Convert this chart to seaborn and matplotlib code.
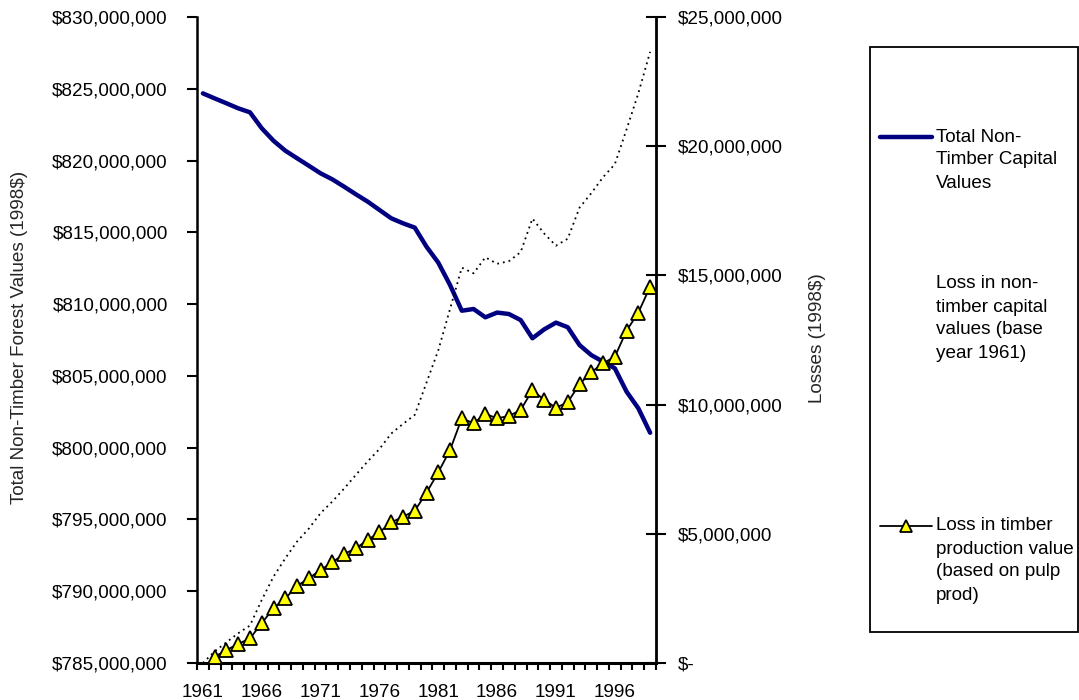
import numpy as np
import pandas as pd
import matplotlib
matplotlib.use("Agg")
import matplotlib.pyplot as plt
import seaborn as sns
from matplotlib.ticker import FuncFormatter, FixedLocator
from matplotlib.lines import Line2D
from matplotlib.patches import Rectangle

# ---- data (millions of 1998 dollars) ----
years = list(range(1961, 2000))

total_non_timber_capital = [
    824.68, 824.33, 823.99, 823.64, 823.36, 822.25, 821.38, 820.69, 820.16, 819.64,
    819.11, 818.69, 818.18, 817.65, 817.14, 816.56, 815.98, 815.63, 815.33, 814.00,
    812.89, 811.33, 809.54, 809.66, 809.08, 809.41, 809.31, 808.89, 807.62, 808.24,
    808.71, 808.39, 807.15, 806.45, 805.99, 805.53, 803.90, 802.74, 801.04,
]

loss_non_timber_capital = [
    0.00, 0.45, 0.80, 1.15, 1.45, 2.44, 3.34, 4.05, 4.70, 5.20,
    5.80, 6.25, 6.75, 7.28, 7.80, 8.28, 8.88, 9.25, 9.60, 10.85,
    12.10, 13.70, 15.30, 15.08, 15.70, 15.45, 15.55, 15.90, 17.20, 16.62,
    16.15, 16.42, 17.62, 18.18, 18.80, 19.30, 20.65, 22.05, 23.65,
]

loss_timber_production = [
    np.nan, 0.24, 0.50, 0.74, 0.95, 1.54, 2.12, 2.50, 2.98, 3.28,
    3.60, 3.90, 4.22, 4.44, 4.76, 5.06, 5.44, 5.66, 5.89, 6.59,
    7.38, 8.24, 9.47, 9.28, 9.64, 9.47, 9.56, 9.79, 10.56, 10.18,
    9.88, 10.09, 10.79, 11.25, 11.60, 11.85, 12.86, 13.56, 14.56,
]

year_labels = [1961, 1966, 1971, 1976, 1981, 1986, 1991, 1996]

legend_labels = [
    "Total Non-\nTimber Capital\nValues",
    "Loss in non-\ntimber capital\nvalues (base\nyear 1961)",
    "Loss in timber\nproduction value\n(based on pulp\nprod)",
]

df = pd.DataFrame({
    "year": years,
    "capital": np.array(total_non_timber_capital) * 1e6,
    "loss_capital": np.array(loss_non_timber_capital) * 1e6,
    "loss_timber": np.array(loss_timber_production) * 1e6,
})

# ---- style ----
sns.set_theme(style="white")
plt.rcParams["font.family"] = ["Liberation Sans", "DejaVu Sans"]
FS = 13.6
plt.rcParams["font.size"] = FS

W, H = 1079, 700
fig = plt.figure(figsize=(W / 100, H / 100), dpi=100)

# plot area in pixels
L, R, T, B = 197, 656, 17, 663
ax = fig.add_axes([L / W, 1 - B / H, (R - L) / W, (B - T) / H])
ax2 = ax.twinx()

NAVY = "#000080"

sns.lineplot(data=df, x="year", y="capital", ax=ax, color=NAVY, lw=3.2,
             legend=False)
sns.lineplot(data=df, x="year", y="loss_capital", ax=ax2, color="black",
             lw=1.3, linestyle=(0, (1, 2.2)), legend=False)
sns.lineplot(data=df, x="year", y="loss_timber", ax=ax2, color="black",
             lw=1.3, marker="^", markersize=9.5, markerfacecolor="#FFFF00",
             markeredgecolor="black", markeredgewidth=1.3, legend=False)

# ---- axes ----
ax.set_xlim(1960.5, 1999.5)
ax.set_ylim(785e6, 830e6)
ax2.set_ylim(0, 25e6)

ax.xaxis.set_major_locator(FixedLocator(year_labels))
ax.xaxis.set_minor_locator(FixedLocator(np.arange(1960.5, 2000, 1)))
ax.tick_params(axis="x", which="major", length=0, pad=15, labelsize=FS,
               colors="black")
ax.tick_params(axis="x", which="minor", bottom=True, length=5, width=1.5,
               direction="out", color="black")

ax.set_yticks(np.arange(785e6, 830e6 + 1, 5e6))
ax.yaxis.set_major_formatter(FuncFormatter(lambda v, p: f"${v:,.0f}"))
ax.tick_params(axis="y", which="major", left=True, length=7, width=1.5,
               direction="out", pad=14, labelsize=FS, colors="black")

ax2.set_yticks(np.arange(0, 25e6 + 1, 5e6))
ax2.yaxis.set_major_formatter(
    FuncFormatter(lambda v, p: "$-" if v == 0 else f"${v:,.0f}"))
ax2.tick_params(axis="y", which="major", right=True, length=14, width=1.5,
                direction="inout", pad=9, labelsize=FS, colors="black")

ax.set_xlabel("")
ax.set_ylabel("Total Non-Timber Forest Values (1998$)", fontsize=FS,
              rotation=90, ha="center", va="center")
ax.yaxis.set_label_coords((20 - L) / (R - L), (B - 337) / (B - T))
ax2.set_ylabel("Losses (1998$)", fontsize=FS, rotation=90,
               ha="center", va="center")
ax2.yaxis.set_label_coords((817 - L) / (R - L), (B - 338) / (B - T))

for a in (ax, ax2):
    a.grid(False)
    a.spines["top"].set_visible(False)
ax.spines["right"].set_visible(False)
ax2.spines["left"].set_visible(False)
ax2.spines["bottom"].set_visible(False)
ax.spines["left"].set_color("black")
ax.spines["left"].set_linewidth(1.8)
ax.spines["bottom"].set_color("black")
ax.spines["bottom"].set_linewidth(2.2)
ax2.spines["right"].set_color("black")
ax2.spines["right"].set_linewidth(2.0)

# ---- legend box ----
def fx(px):
    return px / W


def fy(py):
    return 1 - py / H


fig.add_artist(Rectangle((fx(870), fy(632)), fx(1078) - fx(870),
                         fy(47) - fy(632), transform=fig.transFigure,
                         fill=False, edgecolor="black", lw=1.3))

fig.add_artist(Line2D([fx(880), fx(932)], [fy(137), fy(137)],
                      transform=fig.transFigure, color=NAVY, lw=3.2))
fig.add_artist(Line2D([fx(880), fx(906), fx(932)], [fy(526)] * 3,
                      transform=fig.transFigure, color="black", lw=1.3,
                      marker="^", markevery=[1], markersize=8,
                      markerfacecolor="#FFFF00", markeredgecolor="black",
                      markeredgewidth=1.3))

entry_tops = [137, 284, 526]
line_step = 23
for top, label in zip(entry_tops, legend_labels):
    for k, line in enumerate(label.split("\n")):
        fig.text(fx(936), fy(top + k * line_step), line, fontsize=FS,
                 ha="left", va="center", color="black")

fig.savefig("out.png", dpi=100)
